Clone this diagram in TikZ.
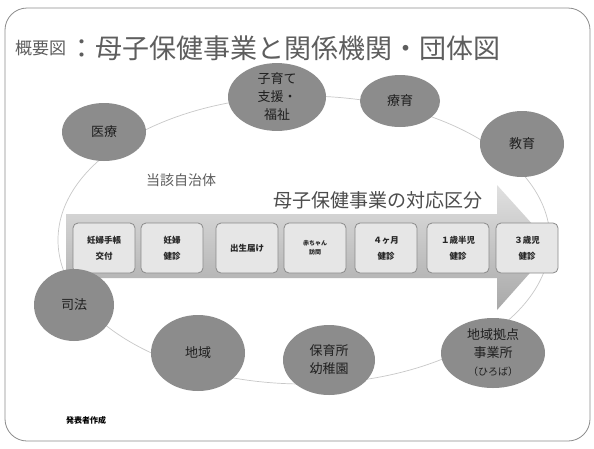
\documentclass[tikz,border=0pt]{standalone}
\usepackage{fontspec}
\setmainfont{Noto Sans CJK JP}
\usetikzlibrary{shapes.geometric}
\definecolor{orgfill}{HTML}{8C8C8C}
\definecolor{boxfill}{HTML}{E6E6E6}
\definecolor{boxline}{HTML}{8A8A8A}
\definecolor{orbitcol}{HTML}{C8C8C8}
\definecolor{titlecol}{HTML}{5E5E5E}
\begin{document}
\begin{tikzpicture}[x=1pt,y=-1pt,
  org/.style={ellipse, fill=orgfill, inner sep=0pt, font=\fontsize{13}{18}\selectfont, text=black!88, align=center},
  stagebox/.style={draw=boxline, line width=0.8pt, fill=boxfill, rounded corners=5pt, minimum width=62pt, minimum height=50pt, font=\bfseries\fontsize{8.5}{16}\selectfont, text=black!85, align=center, inner sep=0pt},
  frame/.style={draw=black!45, line width=0.8pt, rounded corners=22pt},
  orbit/.style={draw=orbitcol, line width=0.7pt}]
\useasboundingbox (0,0) rectangle (594,448);
\fill[white] (0,0) rectangle (594,448);
\draw[frame] (5,8) rectangle (590,441);
% title
\node[anchor=west, text=titlecol, font=\fontsize{17}{20}\selectfont, inner sep=0pt] (t1) at (15,48) {概要図};
\node[anchor=west, text=titlecol, font=\fontsize{27}{29}\selectfont, inner sep=0pt] (t2) at ([xshift=2pt]t1.east) {：母子保健事業と関係機関・団体図};
% orbit
\draw[orbit] (304,240) ellipse [x radius=246, y radius=144];
% arrow
\shade[top color=black!12, bottom color=black!34] (66,214) -- (497,214) -- (497,185) -- (553,247) -- (497,310) -- (497,278) -- (66,278) -- cycle;
\node[text=black!70, font=\fontsize{19}{21}\selectfont, inner sep=1pt] (kubun) at (378,200) {母子保健事業の対応区分};
% stages
\node[stagebox] (s1) at (104,248) {妊婦手帳\\交付};
\node[stagebox] (s2) at (172,248) {妊婦\\健診};
\node[stagebox] (s3) at (247,248) {出生届け};
\node[stagebox, font=\bfseries\fontsize{6}{9}\selectfont] (s4) at (315,248) {赤ちゃん\\訪問};
\node[stagebox] (s5) at (386,248) {４ヶ月\\健診};
\node[stagebox] (s6) at (458,248) {１歳半児\\健診};
\node[stagebox] (s7) at (527,248) {３歳児\\健診};
% organisations
\node[org, minimum width=84pt, minimum height=58pt] (iryo) at (104,132) {医療};
\node[org, minimum width=98pt, minimum height=66pt] (kosodate) at (277,97) {子育て\\支援・\\福祉};
\node[org, minimum width=80pt, minimum height=52pt] (ryoiku) at (400,101) {療育};
\node[org, minimum width=84pt, minimum height=66pt] (kyoiku) at (522,144) {教育};
\node[org, minimum width=80pt, minimum height=72pt] (shiho) at (74,305) {司法};
\node[org, minimum width=94pt, minimum height=76pt] (chiiki) at (198,353) {地域};
\node[org, minimum width=92pt, minimum height=70pt] (hoiku) at (329,360) {保育所\\幼稚園};
\node[org, minimum width=104pt, minimum height=70pt] (kyoten) at (493,353) {地域拠点\\事業所\\{\fontsize{10}{12}\selectfont （ひろば）}};
% labels
\node[text=titlecol, font=\fontsize{14}{16}\selectfont] (jichitai) at (181,180) {当該自治体};
\node[anchor=west, font=\bfseries\fontsize{8}{10}\selectfont, inner sep=0pt] (author) at (66,420) {発表者作成};
\end{tikzpicture}
\end{document}
